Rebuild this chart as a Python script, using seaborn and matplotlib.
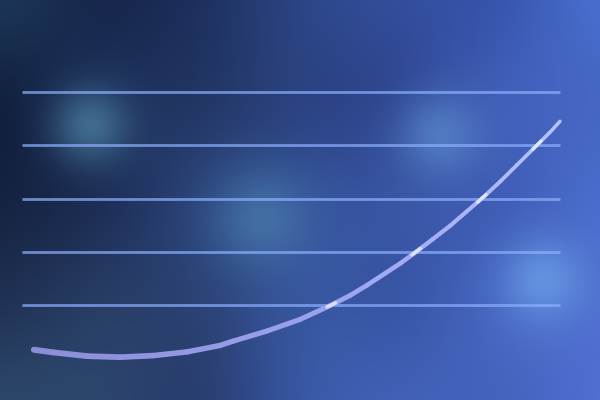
import numpy as np
import seaborn as sns
from matplotlib import pyplot as plt
from matplotlib.collections import LineCollection
from matplotlib.colors import to_rgb

# Curve: x on a 0-10 scale, y in grid steps
curve_x = [0.22, 0.58, 1.21, 1.82, 2.44, 3.07, 3.68, 3.92, 4.55, 5.17, 5.73, 6.10,
           6.41, 7.03, 7.34, 7.64, 7.96, 8.27, 8.57, 8.89, 9.20, 9.57, 9.81, 10.0]
curve_y = [0.16, 0.11, 0.04, 0.02, 0.05, 0.12, 0.24, 0.32, 0.51, 0.73, 0.99, 1.18,
           1.37, 1.78, 2.01, 2.24, 2.49, 2.76, 3.02, 3.32, 3.63, 4.00, 4.24, 4.45]
grid_levels = [1, 2, 3, 4, 5]

# Background: coarse colour grid (top -> bottom, left -> right)
bg_grid = [
    ['#203c5c', '#142246', '#1c2e5c', '#2c4888', '#3650a0', '#3450a8', '#4c74d4'],
    ['#0e1a36', '#1e3460', '#22345e', '#2a4280', '#2c4088', '#4464c0', '#4464c0'],
    ['#14223e', '#1a284e', '#2c4880', '#34529a', '#3c58a8', '#3c58b0', '#4c70d0'],
    ['#1e2e50', '#2a4068', '#2a4070', '#3a5aa4', '#34509e', '#4a6cc8', '#5070d0'],
    ['#2e4a6c', '#2c4870', '#263868', '#3a5aa8', '#4464bc', '#4260b8', '#5070d4'],
]
# soft light spots: x px, y px, radius px, colour, strength
spots = [
    (90, 125, 38, '#4c7ea2', 0.75),
    (262, 218, 48, '#4a7cae', 0.7),
    (440, 135, 42, '#5a8ace', 0.7),
    (543, 280, 40, '#6a9ce6', 0.8),
]

W, H = 600, 400


def blur(img, sigma):
    r = int(3 * sigma)
    k = np.exp(-0.5 * (np.arange(-r, r + 1) / sigma) ** 2)
    k /= k.sum()
    for axis in (0, 1):
        pad = [(0, 0)] * img.ndim
        pad[axis] = (r, r)
        p = np.pad(img, pad, mode='edge')
        img = np.apply_along_axis(lambda v: np.convolve(v, k, mode='valid'), axis, p)
    return img


grid = np.array([[to_rgb(c) for c in row] for row in bg_grid])
gy = np.linspace(0, H - 1, grid.shape[0])
gx = np.linspace(0, W - 1, grid.shape[1])
rows = np.array([[np.interp(np.arange(W), gx, grid[i, :, c]) for c in range(3)]
                 for i in range(grid.shape[0])])  # (5, 3, W)
bg = np.zeros((H, W, 3))
for c in range(3):
    for j in range(W):
        bg[:, j, c] = np.interp(np.arange(H), gy, rows[:, c, j])
bg = blur(bg, 30)

yy, xx = np.mgrid[0:H, 0:W]
for sx, sy, sr, scol, st in spots:
    a = st * np.exp(-((xx - sx) ** 2 + (yy - sy) ** 2) / sr ** 2)
    bg = bg * (1 - a[..., None]) + np.array(to_rgb(scol)) * a[..., None]
bg = np.clip(bg, 0, 1)

sns.set_theme(style='white')

# pixel -> data mapping: x 0..10 spans px 22..560, y steps of 53.25 px from px 358
xlim = (-22 / 53.8, (W - 22) / 53.8)
ylim = ((358.25 - H) / 53.25, 358.25 / 53.25)

fig = plt.figure(figsize=(6, 4), dpi=100)
ax = fig.add_axes([0, 0, 1, 1])
ax.imshow(bg, extent=[xlim[0], xlim[1], ylim[0], ylim[1]], aspect='auto', zorder=0)

ax.hlines(grid_levels, 0, 10, color='#8cb0ff', alpha=0.72, lw=2.0, zorder=2)

# tapered curve, lavender on the left turning paler to the right
pts = np.column_stack([curve_x, curve_y])
segs = np.stack([pts[:-1], pts[1:]], axis=1)
n = len(segs)
cols = sns.blend_palette(['#8a8ed8', '#9ea6f2', '#b6c2ff'], n_colors=n)
widths = np.linspace(4.3, 2.5, n)
lc = LineCollection(segs, colors=cols, linewidths=widths, capstyle='round',
                    joinstyle='round', zorder=3)
ax.add_collection(lc)

# bright glints where the curve crosses the grid lines
i0 = int(np.argmin(curve_y))
levels_hit = [lv for lv in grid_levels if lv <= max(curve_y)]
cross_x = np.interp(levels_hit, curve_y[i0:], curve_x[i0:])
d = 0.08
glints = [[(cx - d, np.interp(cx - d, curve_x, curve_y)),
           (cx + d, np.interp(cx + d, curve_x, curve_y))] for cx in cross_x]
ax.add_collection(LineCollection(glints, colors='#eef6ff', alpha=0.75,
                                 linewidths=2.4, capstyle='round', zorder=4))

ax.set_xlim(*xlim)
ax.set_ylim(*ylim)
ax.axis('off')

plt.savefig('out.png', dpi=100)
